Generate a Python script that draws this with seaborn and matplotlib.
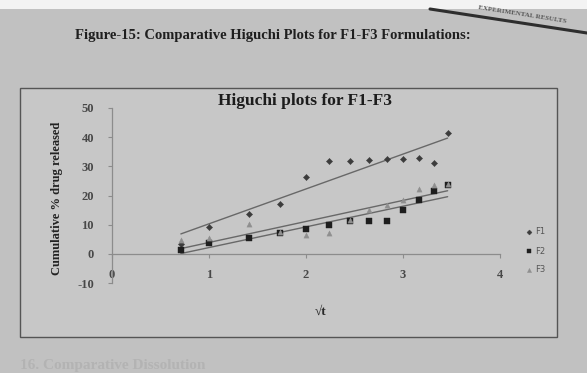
import numpy as np
import pandas as pd
import matplotlib
matplotlib.use("Agg")
import matplotlib.pyplot as plt
from matplotlib.patches import Rectangle
from matplotlib.lines import Line2D
import seaborn as sns

# Higuchi data: cumulative % drug released against square root of time
sqrt_t = [0.71, 1.00, 1.41, 1.73, 2.00, 2.24, 2.45, 2.65, 2.83, 3.00, 3.16, 3.32, 3.46]
f1 = [3.5, 9.2, 13.8, 17.0, 26.4, 32.0, 32.0, 32.2, 32.6, 32.5, 32.8, 31.0, 41.5]
f2 = [1.4, 3.8, 5.4, 7.2, 8.5, 10.0, 11.2, 11.1, 11.2, 15.0, 18.3, 21.5, 23.6]
f3 = [4.8, 5.5, 10.2, 7.5, 6.3, 7.3, 11.5, 14.9, 16.7, 18.6, 22.3, 23.5, 23.8]
formulations = ["F1", "F2", "F3"]
y_ticks = [-10, 0, 10, 20, 30, 40, 50]
x_ticks = [0, 1, 2, 3, 4]

series = {"F1": f1, "F2": f2, "F3": f3}
df = pd.DataFrame({
    "sqrt_t": sqrt_t * 3,
    "released": f1 + f2 + f3,
    "formulation": [name for name in formulations for _ in sqrt_t],
})

sns.set_theme(style="white")
plt.rcParams["font.family"] = ["Liberation Serif", "DejaVu Serif"]
plt.rcParams["axes.unicode_minus"] = False

W, H = 587, 373
fig = plt.figure(figsize=(W / 100, H / 100), dpi=100, facecolor="#c1c1c1")


def fx(px):
    return px / W


def fy(py):
    return 1 - py / H


# page strip and running header
fig.patches.append(Rectangle((0, fy(9)), 1, 9 / H, transform=fig.transFigure,
                             facecolor="#f3f3f3", edgecolor="none", zorder=0))
fig.lines.append(Line2D([fx(430), fx(587)], [fy(9), fy(33)], transform=fig.transFigure,
                        color="#2e2e2e", lw=2.2))
fig.text(fx(478), fy(14), "EXPERIMENTAL RESULTS", rotation=-9, fontsize=5,
         color="#555555", ha="left", va="center", fontweight="bold")

fig.text(fx(75), fy(36), "Figure-15: Comparative Higuchi Plots for F1-F3 Formulations:",
         fontsize=10.5, fontweight="bold", color="#1f1f1f", ha="left", va="center")

# chart area frame
fig.patches.append(Rectangle((fx(20), fy(337)), fx(557) - fx(20), (337 - 88) / H,
                             transform=fig.transFigure, facecolor="#c7c7c7",
                             edgecolor="#555555", lw=1.0, zorder=0))

ax = fig.add_axes([fx(112), fy(283), fx(500) - fx(112), (283 - 108) / H])
ax.set_facecolor("none")
ax.set_zorder(3)

palette = {"F1": "#3c3c3c", "F2": "#1e1e1e", "F3": "#8f8f8f"}
markers = {"F1": "D", "F2": "s", "F3": "^"}
sizes = {"F1": 10, "F2": 18, "F3": 14}

for name in formulations:
    sub = df[df["formulation"] == name]
    sns.scatterplot(data=sub, x="sqrt_t", y="released", marker=markers[name],
                    color=palette[name], s=sizes[name], edgecolor=palette[name],
                    linewidth=0.3, ax=ax, label=name, zorder=3)
    sns.regplot(x=np.array(sqrt_t), y=np.array(series[name]), scatter=False, ci=None,
                truncate=True, color="#686868", line_kws={"lw": 1.0, "zorder": 2}, ax=ax)

ax.set_xlim(0, 4)
ax.set_ylim(-10, 50)
ax.set_xticks(x_ticks)
ax.set_yticks(y_ticks)
ax.set_xlabel("")
ax.set_ylabel("")

for side in ("top", "right"):
    ax.spines[side].set_visible(False)
ax.spines["left"].set_color("#8c8c8c")
ax.spines["left"].set_linewidth(0.9)
ax.spines["bottom"].set_position(("data", 0))
ax.spines["bottom"].set_color("#8c8c8c")
ax.spines["bottom"].set_linewidth(0.9)

ax.tick_params(axis="y", which="both", left=True, length=3, width=0.8, color="#8c8c8c",
               labelsize=9, labelcolor="#484848", pad=10)
ax.tick_params(axis="x", which="both", bottom=True, length=3, width=0.8, color="#8c8c8c",
               labelsize=9, labelcolor="#484848", pad=8)
for lab in ax.get_xticklabels() + ax.get_yticklabels():
    lab.set_fontweight("bold")

# chart title and axis titles
fig.text(fx(305), fy(101), "Higuchi plots for F1-F3", fontsize=12.5, fontweight="bold",
         color="#1c1c1c", ha="center", va="center")
fig.text(fx(57), fy(198), "Cumulative % drug released", rotation=90, fontsize=9,
         fontweight="bold", color="#222222", ha="center", va="center")
fig.text(fx(320), fy(312), "√t", fontsize=9.5, fontweight="bold", color="#2a2a2a",
         ha="center", va="center")

handles, labels = ax.get_legend_handles_labels()
if ax.get_legend() is not None:
    ax.get_legend().remove()
fig.legend(handles, labels, loc="center", bbox_to_anchor=(fx(535), fy(251)),
           frameon=False, prop={"family": "DejaVu Sans", "size": 6},
           labelcolor="#555555", markerscale=0.8, handletextpad=0.2,
           labelspacing=1.2, handlelength=1.0)

# next heading on the page
fig.text(fx(20), fy(366), "16. Comparative Dissolution", fontsize=11, fontweight="bold",
         color="#b3b3b3", ha="left", va="center")

fig.savefig("out.png", dpi=100, facecolor=fig.get_facecolor())
